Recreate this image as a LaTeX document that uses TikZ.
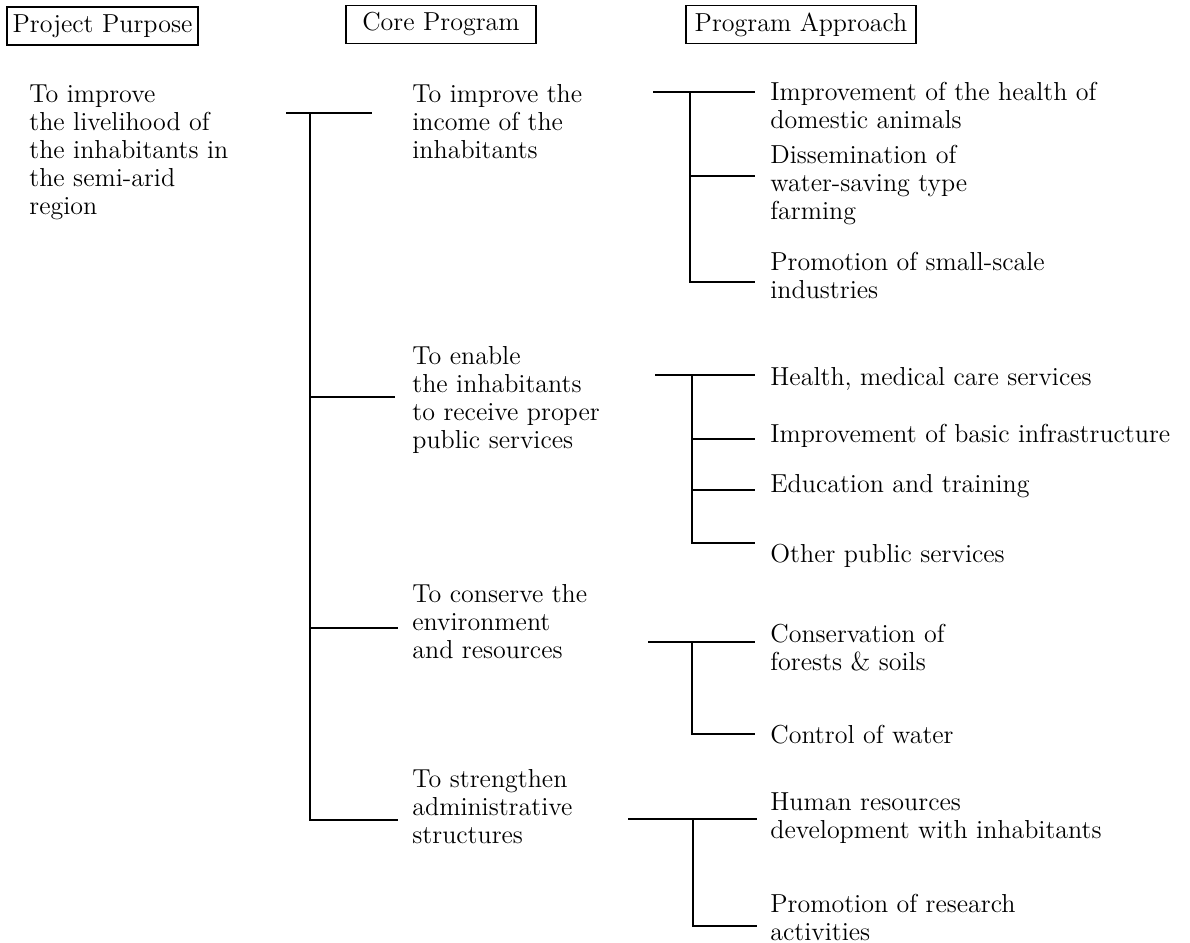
\documentclass[tikz,border=0pt]{standalone}
\usepackage{tikz}
\usetikzlibrary{positioning}
\tikzset{
  headbox/.style={draw, line width=0.8pt, minimum height=19pt, inner sep=0pt, font=\fontsize{13}{14}\selectfont},
  itemtext/.style={anchor=base west, align=left, inner sep=0pt, font=\fontsize{13}{14}\selectfont},
  branch/.style={line width=1pt}
}

\begin{document}
\begin{tikzpicture}[x=0.5pt, y=-0.5pt]
  \useasboundingbox (0,0) rectangle (1190,943);
  % column heads
  \node[headbox, minimum width=95.5pt] (hpurpose) at (102.5,26) {Project Purpose};
  \node[headbox, minimum width=95pt] (hcore) at (441,24.5) {Core Program};
  \node[headbox, minimum width=115pt] (happroach) at (801,24.5) {Program Approach};
  % purpose and core programs (placed by the last line's baseline)
  \node[itemtext] (purpose) at (29,214) {To improve\\the livelihood of\\the inhabitants in\\the semi-arid\\region};
  \node[itemtext] (income) at (412,158) {To improve the\\income of the\\inhabitants};
  \node[itemtext] (services) at (412,448) {To enable\\the inhabitants\\to receive proper\\public services};
  \node[itemtext] (conserve) at (412,658) {To conserve the\\environment\\and resources};
  \node[itemtext] (admin) at (412,843) {To strengthen\\administrative\\structures};
  % program approaches
  \node[itemtext] (animals) at (770,128) {Improvement of the health of\\domestic animals};
  \node[itemtext] (farming) at (770,219) {Dissemination of\\water-saving type\\farming};
  \node[itemtext] (industry) at (770,298) {Promotion of small-scale\\industries};
  \node[itemtext] (medical) at (770,385) {Health, medical care services};
  \node[itemtext] (infra) at (770,442) {Improvement of basic infrastructure};
  \node[itemtext] (training) at (770,492) {Education and training};
  \node[itemtext] (otherpub) at (770,562) {Other public services};
  \node[itemtext] (forests) at (770,670) {Conservation of\\forests \& soils};
  \node[itemtext] (water) at (770,743) {Control of water};
  \node[itemtext] (human) at (770,838) {Human resources\\development with inhabitants};
  \node[itemtext] (research) at (770,940) {Promotion of research\\activities};

  % main tree
  \coordinate (m0) at (286,113);
  \coordinate (mt) at (310,113);
  \coordinate (c1e) at (372,113);
  \coordinate (c2e) at (395,397);
  \coordinate (c3e) at (398,628);
  \coordinate (c4e) at (398,820);
  \draw[branch] (m0) -- (c1e); \draw[branch] (mt) |- (c4e);
  \draw[branch] (mt |- c2e) -- (c2e); \draw[branch] (mt |- c3e) -- (c3e);

  % income tree
  \coordinate (s1) at (653,92);
  \coordinate (t1) at (690,92);
  \coordinate (a1e) at (755,92);
  \coordinate (a2e) at (755,176);
  \coordinate (a3e) at (755,282);
  \draw[branch] (s1) -- (a1e); \draw[branch] (t1) |- (a3e); \draw[branch] (t1 |- a2e) -- (a2e);

  % services tree
  \coordinate (s2) at (655,375);
  \coordinate (t2) at (692,375);
  \coordinate (b1e) at (755,375);
  \coordinate (b2e) at (755,439);
  \coordinate (b3e) at (755,490);
  \coordinate (b4e) at (755,543);
  \draw[branch] (s2) -- (b1e); \draw[branch] (t2) |- (b4e);
  \draw[branch] (t2 |- b2e) -- (b2e); \draw[branch] (t2 |- b3e) -- (b3e);

  % conservation tree
  \coordinate (s3) at (648,642);
  \coordinate (t3) at (692,642);
  \coordinate (d1e) at (755,642);
  \coordinate (d2e) at (755,734);
  \draw[branch] (s3) -- (d1e); \draw[branch] (t3) |- (d2e);

  % administration tree
  \coordinate (s4) at (628,819);
  \coordinate (t4) at (693,819);
  \coordinate (e1e) at (757,819);
  \coordinate (e2e) at (757,926);
  \draw[branch] (s4) -- (e1e); \draw[branch] (t4) |- (e2e);
\end{tikzpicture}
\end{document}
